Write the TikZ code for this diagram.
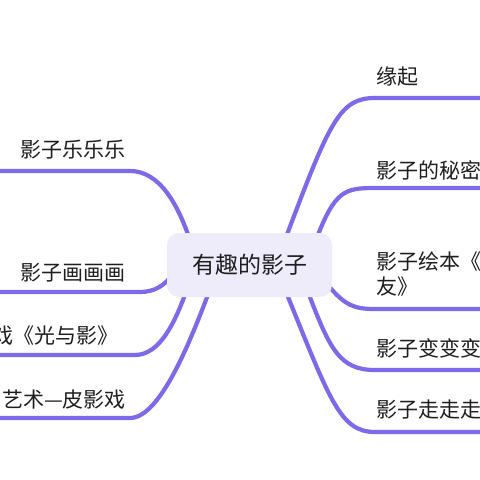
\documentclass[tikz,border=0pt]{standalone}
\usepackage{fontspec}
\newfontfamily\cjk{Noto Sans CJK SC}
\definecolor{branch}{RGB}{124,106,232}
\definecolor{centerfill}{RGB}{238,236,251}
\definecolor{txt}{RGB}{30,30,30}
\begin{document}
\begin{tikzpicture}[x=1pt,y=-1pt,
  lbl/.style={inner sep=0pt,anchor=west,text=txt,font=\cjk\fontsize{21}{24}\selectfont},
  lblr/.style={inner sep=0pt,anchor=east,text=txt,font=\cjk\fontsize{21}{24}\selectfont},
  br/.style={draw=branch,line width=4.2pt,line cap=round}]
\useasboundingbox (0,0) rectangle (480,480);
\clip (0,0) rectangle (480,480);
\fill[white] (0,0) rectangle (480,480);
% end coordinates
\coordinate (l1) at (-10,171);
\coordinate (l2) at (-10,292);
\coordinate (l3) at (-10,355);
\coordinate (l4) at (-10,418);
\coordinate (r1) at (490,98);
\coordinate (r2) at (490,188);
\coordinate (r3) at (490,309);
\coordinate (r4) at (490,370);
\coordinate (r5) at (490,432);
% branches
\draw[br] (l1) -- (130,171) .. controls (160,171) and (178,205) .. (190,240);
\draw[br] (l2) -- (140,292) .. controls (155,292) and (165,285) .. (172,275);
\draw[br] (l3) -- (135,355) .. controls (160,355) and (175,322) .. (186,292);
\draw[br] (l4) -- (130,418) .. controls (160,418) and (190,342) .. (209,292);
\draw[br] (r1) -- (375,98) .. controls (340,98) and (330,120) .. (285,240);
\draw[br] (r2) -- (375,188) .. controls (345,188) and (335,190) .. (316,240);
\draw[br] (r3) -- (375,309) .. controls (355,309) and (345,306) .. (328,285);
\draw[br] (r4) -- (375,370) .. controls (340,370) and (330,350) .. (308,292);
\draw[br] (r5) -- (375,432) .. controls (340,432) and (330,400) .. (286,292);
% center
\node[fill=centerfill,rounded corners=12pt,minimum width=165pt,minimum height=64pt,inner sep=0pt,
  text=txt,font=\cjk\fontsize{23}{26}\selectfont] (c) at (249.5,265) {有趣的影子};
% left labels
\node[lbl] (a1) at (20,150) {影子乐乐乐};
\node[lbl] (a2) at (20,273) {影子画画画};
\node[lblr] (a3) at (119,336) {戏《光与影》};
\node[lblr] (a4) at (126,400) {艺术—皮影戏};
% right labels
\node[lbl] (b1) at (376,77) {缘起};
\node[lbl] (b2) at (376,170) {影子的秘密};
\node[lbl] (b3) at (376,262) {影子绘本《};
\node[lbl] (b3b) at (376,287) {友》};
\node[lbl] (b4) at (376,348) {影子变变变};
\node[lbl] (b5) at (376,410) {影子走走走};
\end{tikzpicture}
\end{document}
